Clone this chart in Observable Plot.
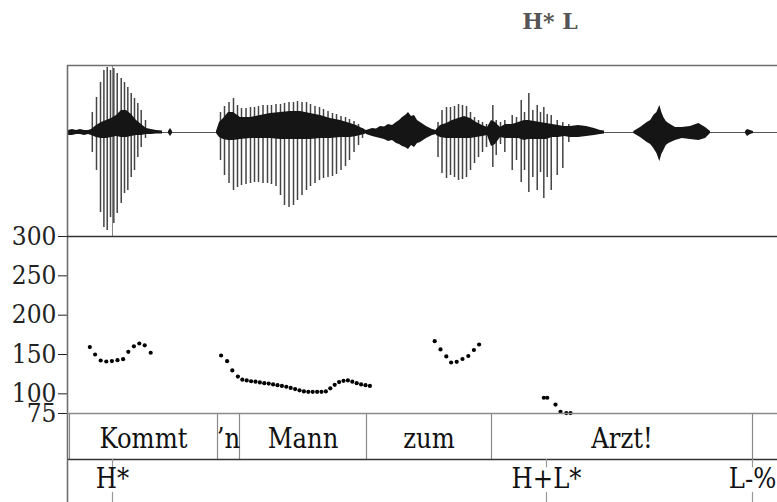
<!DOCTYPE html>
<html><head><meta charset="utf-8">
<script src="https://cdn.jsdelivr.net/npm/d3@7"></script>
<script src="https://cdn.jsdelivr.net/npm/@observablehq/plot@0.6"></script>
<style>
html,body{margin:0;padding:0;background:#fff;overflow:hidden;width:777px;height:502px}
#wrap{position:relative;width:777px;height:502px;overflow:hidden;background:#fff}
#wrap svg{position:absolute;left:0;max-width:none !important;width:800px !important;overflow:visible !important;background:transparent !important}
#wrap svg text{font-stretch:condensed}
#title{position:absolute;left:490px;width:120px;top:8px;text-align:center;font:bold 22px "DejaVu Serif";color:#555;white-space:pre}
</style></head><body><div id="wrap"><div id="title">H* L</div></div>
<script>
// ---- time axis (seconds) ----
const tEnd = 1.8325;

// ---- waveform: dense / noise envelopes (per segment) ----
const noiseT = [
  [0.0025,0.0125,0.0225,0.0325,0.0425,0.0525,0.06],
  [0.06,0.0725,0.085,0.0975,0.11,0.1225,0.135,0.1475,0.16,0.1725,0.185,0.1975,0.21,0.2225,0.2375],
  [0.2525,0.2575,0.2625],
  [0.3725,0.38,0.39,0.4025,0.415,0.4325,0.4575,0.4825,0.5075,0.5325,0.5575,0.5825,0.6075,0.6325,0.6575,0.6825,0.7075,0.7225,0.7325,0.7425,0.75],
  [0.7475,0.7625,0.7725,0.7825,0.7925,0.8025,0.8125,0.8225,0.83,0.8375,0.845,0.8525,0.86,0.8675,0.875,0.8825,0.8975,0.9125,0.9225],
  [0.9225,0.9325,0.9475,0.9625,0.9775,0.9925,1.0075,1.0225,1.0375,1.05],
  [1.05,1.06,1.07,1.0825,1.095,1.1125,1.1275,1.1425,1.1525,1.1675,1.1825,1.1975,1.2125,1.2275,1.2425,1.2575,1.2775,1.2975,1.3175,1.3325,1.3425],
  [1.4158,1.4325,1.4493,1.458,1.4658,1.4735,1.4808,1.4858,1.4908,1.497,1.5033,1.52,1.5368,1.5575,1.5783,1.595,1.6075],
  [1.695,1.7,1.7075,1.715]
];
const noiseHi = [
  [0.02,0.03,0.02,0.03,0.02,0.02,0.03],
  [0.03,0.07,0.1,0.12,0.14,0.17,0.22,0.22,0.18,0.12,0.08,0.04,0.03,0.02,0.015],
  [0.01,0.04,0.01],
  [0.01,0.1,0.14,0.2,0.2,0.15,0.15,0.17,0.19,0.2,0.21,0.21,0.19,0.17,0.14,0.12,0.09,0.07,0.05,0.03,0.015],
  [0.02,0.04,0.035,0.06,0.055,0.08,0.07,0.1,0.12,0.15,0.17,0.2,0.16,0.17,0.12,0.1,0.06,0.03,0.02],
  [0.03,0.07,0.09,0.12,0.14,0.16,0.14,0.1,0.07,0.05],
  [0.05,0.12,0.1,0.05,0.08,0.08,0.1,0.12,0.12,0.11,0.1,0.09,0.08,0.07,0.06,0.06,0.07,0.06,0.04,0.02,0.015],
  [0.01,0.05,0.1,0.12,0.17,0.2,0.27,0.2,0.15,0.11,0.09,0.05,0.05,0.06,0.09,0.05,0.01],
  [0.01,0.03,0.02,0.01]
];
const noiseLo = [
  [-0.03,-0.03,-0.02,-0.02,-0.03,-0.02,-0.03],
  [-0.03,-0.05,-0.06,-0.06,-0.05,-0.04,-0.05,-0.05,-0.04,-0.03,-0.03,-0.02,-0.02,-0.015,-0.015],
  [-0.01,-0.04,-0.01],
  [-0.01,-0.05,-0.07,-0.08,-0.08,-0.07,-0.06,-0.06,-0.06,-0.07,-0.07,-0.07,-0.07,-0.06,-0.06,-0.05,-0.05,-0.04,-0.03,-0.02,-0.01],
  [-0.02,-0.04,-0.05,-0.06,-0.07,-0.09,-0.08,-0.11,-0.12,-0.14,-0.15,-0.17,-0.13,-0.15,-0.11,-0.1,-0.06,-0.03,-0.02],
  [-0.03,-0.05,-0.06,-0.06,-0.06,-0.06,-0.06,-0.05,-0.04,-0.03],
  [-0.03,-0.14,-0.12,-0.05,-0.06,-0.06,-0.06,-0.08,-0.07,-0.07,-0.07,-0.07,-0.05,-0.05,-0.04,-0.05,-0.05,-0.04,-0.03,-0.02,-0.015],
  [-0.01,-0.05,-0.1,-0.12,-0.16,-0.21,-0.29,-0.22,-0.18,-0.13,-0.11,-0.08,-0.06,-0.07,-0.08,-0.06,-0.01],
  [-0.01,-0.04,-0.02,-0.01]
];

// ---- waveform: glottal pulses (time, peak, trough) ----
const pulseT = [
  0.062,0.0725,0.0825,0.091,0.0993,0.1075,0.1158,0.1243,0.1343,0.1425,0.1508,0.1593,0.1675,0.1758,0.1843,0.195,
  0.3825,0.3925,0.4038,0.415,0.425,0.435,0.4463,0.4575,0.4675,0.4775,0.4888,0.5,0.51,0.5213,0.5325,0.5425,0.5538,0.565,0.575,0.5863,0.5975,0.6075,0.6188,0.63,0.64,0.6513,0.6625,0.6725,0.6838,0.695,0.705,0.7163,0.7275,0.7375,
  0.9263,0.9363,0.9475,0.9575,0.9675,0.9775,0.9875,0.9975,1.0075,1.0175,1.0275,1.0375,1.0475,
  1.0633,1.0718,1.0825,1.0933,1.1118,1.1225,1.1343,1.1425,1.1533,1.1633,1.1743,1.1825,1.1908,1.1993,1.2093,1.2243,1.2383,1.2533
];
const pulseHi = [
  0.2,0.35,0.5,0.62,0.65,0.62,0.64,0.59,0.54,0.5,0.45,0.39,0.34,0.29,0.22,0.12,
  0.2,0.26,0.3,0.34,0.27,0.24,0.24,0.25,0.25,0.26,0.27,0.27,0.27,0.28,0.28,0.29,0.3,0.3,0.31,0.3,0.3,0.28,0.26,0.25,0.23,0.21,0.19,0.18,0.16,0.15,0.13,0.11,0.08,0.04,
  0.1,0.22,0.25,0.25,0.26,0.28,0.27,0.26,0.2,0.15,0.12,0.1,0.08,
  0.27,0.12,0.1,0.12,0.17,0.15,0.32,0.2,0.39,0.22,0.27,0.2,0.25,0.18,0.17,0.12,0.1,0.08
];
const pulseLo = [
  -0.2,-0.38,-0.8,-0.95,-0.98,-0.85,-0.91,-0.81,-0.71,-0.61,-0.58,-0.45,-0.38,-0.25,-0.15,-0.06,
  -0.28,-0.43,-0.51,-0.58,-0.55,-0.53,-0.52,-0.51,-0.5,-0.5,-0.51,-0.51,-0.52,-0.54,-0.63,-0.73,-0.75,-0.73,-0.68,-0.63,-0.58,-0.54,-0.51,-0.48,-0.46,-0.45,-0.44,-0.42,-0.38,-0.34,-0.28,-0.2,-0.13,-0.06,
  -0.25,-0.41,-0.46,-0.43,-0.45,-0.48,-0.47,-0.45,-0.38,-0.31,-0.25,-0.2,-0.15,
  -0.35,-0.23,-0.12,-0.2,-0.38,-0.28,-0.5,-0.38,-0.6,-0.45,-0.58,-0.4,-0.66,-0.45,-0.58,-0.43,-0.36,-0.1
];

// ---- pitch track (Hz) ----
const pitchT = [
  0.0558,0.069,0.083,0.097,0.111,0.125,0.139,0.152,0.166,0.1795,0.193,0.208,
  0.384,0.399,0.412,0.426,
  0.437,0.448,0.459,0.47,0.481,0.492,0.503,0.514,0.525,0.536,0.547,0.558,0.569,0.58,0.591,0.602,0.613,0.624,0.635,0.646,0.657,0.668,0.679,0.69,0.701,0.712,0.723,0.734,0.745,0.756,
  0.918,0.9325,0.947,0.959,0.973,0.9875,1.002,1.016,1.029,
  1.1908,1.1993,1.22,1.2325,1.247,1.2575
];
const pitchF = [
  159.5,150,142.4,141.1,141.7,142.8,144,153.4,160.4,164,161.7,152.2,
  148.7,141.5,129.7,122,
  118,117,116,115.5,114.5,113.5,113,112,111,110,109,107.5,106,104.5,103,102.5,102.5,102.5,102.5,103,107,111.5,115,116.5,117,115.5,113.5,112,111,110,
  166.9,156.4,147.5,139.8,140.7,144.3,148.1,155.7,162.7,
  95,95,86.4,77.2,75.5,75.5
];
const pitchTicks = [75, 100, 150, 200, 250, 300];

// ---- tiers ----
const wordBounds = [0.005, 0.375, 0.43, 0.7475, 1.06, 1.7125];
const wordLabels = ["Kommt", "\u2019n", "Mann", "zum", "Arzt!"];
const toneT = [0.1125, 1.1975, 1.7125];
const toneLabels = ["H*", "H+L*", "L-%"];

// ---- build tables ----
const noise = noiseT.flatMap((ts, s) => ts.map((t, i) => ({seg: s, t, hi: noiseHi[s][i], lo: noiseLo[s][i]})));
const pulses = pulseT.map((t, i) => ({t, hi: pulseHi[i], lo: pulseLo[i]}));
const pitch = pitchT.map((t, i) => ({t, f: pitchF[i]}));
const words = wordLabels.map((label, i) => ({label, start: wordBounds[i], end: wordBounds[i + 1]}));
const tones = toneT.map((t, i) => ({t, label: toneLabels[i]}));

const serif = "DejaVu Serif";
const base = {
  width: 800, marginLeft: 67, marginRight: 0, marginTop: 0, marginBottom: 0,
  x: {domain: [0, tEnd], axis: null},
  style: {background: "transparent", overflow: "visible", color: "#222", fontFamily: serif}
};
const frameC = "#6e6e6e";
const wrap = document.getElementById("wrap");
function place(svg, top) { svg.style.top = top + "px"; wrap.appendChild(svg); }

// waveform panel
place(Plot.plot({
  ...base, height: 171,
  y: {domain: [-1.04, 0.67], axis: null},
  marks: [
    Plot.ruleY([0], {stroke: "#555", strokeWidth: 1.1}),
    Plot.ruleX([toneT[0]], {stroke: "#888", strokeWidth: 1}),
    Plot.ruleX(pulses, {x: "t", y1: "lo", y2: "hi", stroke: "#444", strokeWidth: 1.5}),
    Plot.areaY(noise, {x: "t", y1: "lo", y2: "hi", z: "seg", fill: "#151515", curve: "linear"}),
    Plot.ruleX([0], {stroke: frameC, strokeWidth: 1.6}),
    Plot.ruleY([0.67], {stroke: frameC, strokeWidth: 1.6})
  ]
}), 65);

// pitch panel
place(Plot.plot({
  ...base, height: 177,
  style: {...base.style, fontSize: "26px"},
  y: {domain: [75, 300], ticks: pitchTicks, tickSize: 9, tickPadding: 2, label: null, tickFormat: d => String(d)},
  marks: [
    Plot.ruleX([0], {stroke: frameC, strokeWidth: 1.6}),
    Plot.ruleY([300], {stroke: "#333", strokeWidth: 1.5}),
    Plot.dot(pitch, {x: "t", y: "f", r: 2.1, fill: "#000"})
  ]
}), 236);

// word tier
place(Plot.plot({
  ...base, height: 46,
  y: {domain: [0, 1], axis: null},
  marks: [
    Plot.ruleX([0], {stroke: frameC, strokeWidth: 1.6}),
    Plot.ruleX(wordBounds, {y1: 0, y2: 1, stroke: "#8a8a8a", strokeWidth: 1.2}),
    Plot.ruleY([1], {stroke: "#8a8a8a", strokeWidth: 1.4}),
    Plot.ruleY([0], {stroke: "#333", strokeWidth: 1.5}),
    Plot.text(words, {x: d => (d.start + d.end) / 2, y: () => 0.44, text: "label", fontSize: 27, fontFamily: serif, fill: "#111"})
  ]
}), 413);

// tone tier
place(Plot.plot({
  ...base, height: 46,
  y: {domain: [0, 1], axis: null},
  marks: [
    Plot.ruleX([0], {stroke: frameC, strokeWidth: 1.6}),
    Plot.ruleX(tones, {x: "t", y1: 1, y2: 0.82, stroke: "#999", strokeWidth: 1.2}),
    Plot.ruleX(tones, {x: "t", y1: 0.28, y2: 0, stroke: "#999", strokeWidth: 1.2}),
    Plot.text(tones, {x: "t", y: () => 0.56, text: "label", fontSize: 27, fontFamily: serif, fill: "#111"})
  ]
}), 459);
</script>
</body></html>
